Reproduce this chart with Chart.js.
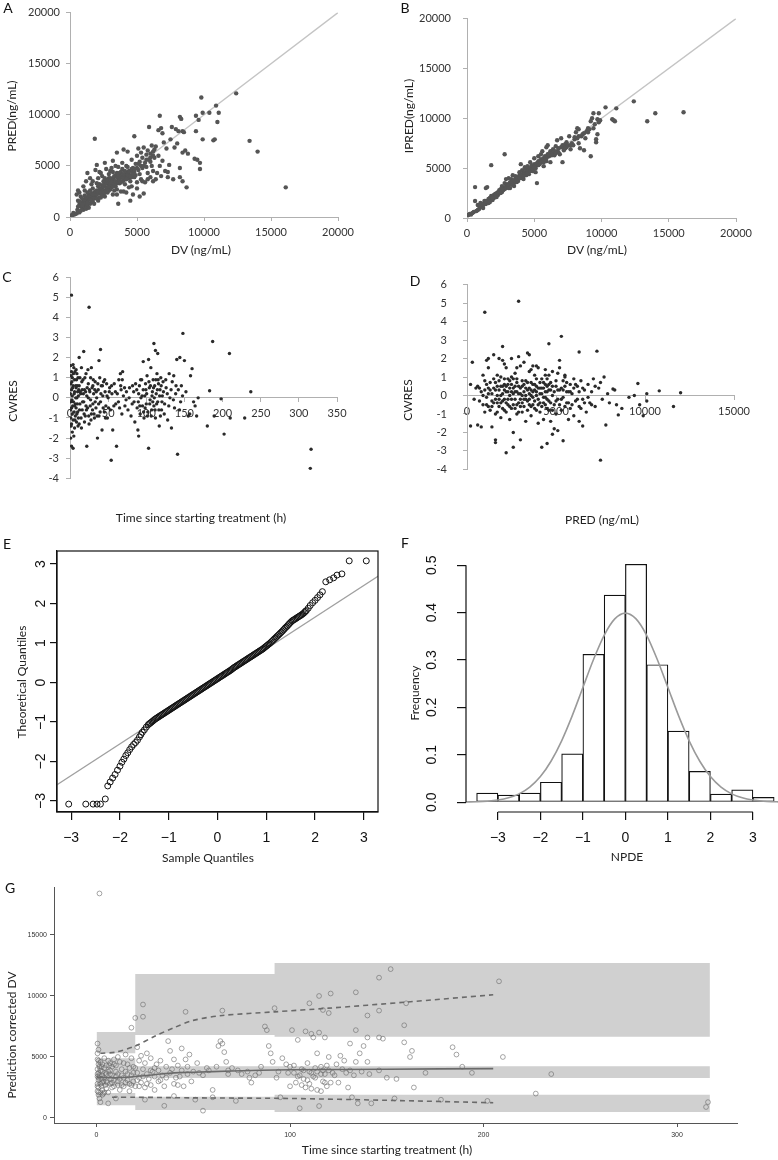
<!DOCTYPE html>
<html>
<head>
<meta charset="utf-8">
<script src="https://cdn.jsdelivr.net/npm/chart.js@4.4.0/dist/chart.umd.min.js"></script>
<style>
body{margin:0;background:#fff;width:778px;height:1160px;position:relative;overflow:hidden;font-family:Lato,sans-serif}
.box{position:absolute}
.lbl{position:absolute;font-size:14px;color:#111;line-height:1;transform:translate(-50%,-50%)}
.t{position:absolute;font-size:12px;color:#222;white-space:nowrap;line-height:1;transform:translate(-50%,-50%)}
.t.rot{transform:translate(-50%,-50%) rotate(-90deg)}
</style>
</head>
<body>
<div class="box" style="left:0;top:0;width:389px;height:262px"><canvas id="cA"></canvas></div>
<div class="box" style="left:389px;top:0;width:389px;height:262px"><canvas id="cB"></canvas></div>
<div class="box" style="left:0;top:262px;width:389px;height:230px"><canvas id="cC"></canvas></div>
<div class="box" style="left:389px;top:262px;width:389px;height:230px"><canvas id="cD"></canvas></div>
<div class="box" style="left:0;top:530px;width:389px;height:340px"><canvas id="cE"></canvas></div>
<div class="box" style="left:389px;top:530px;width:389px;height:340px"><canvas id="cF"></canvas></div>
<div class="box" style="left:0;top:870px;width:778px;height:290px"><canvas id="cG"></canvas></div>

<div class="lbl" style="left:8px;top:8px">A</div>
<div class="lbl" style="left:405px;top:8px">B</div>
<div class="lbl" style="left:7px;top:277px">C</div>
<div class="lbl" style="left:415px;top:281px">D</div>
<div class="lbl" style="left:7px;top:544px">E</div>
<div class="lbl" style="left:405px;top:543px">F</div>
<div class="lbl" style="left:10px;top:888px">G</div>

<div class="t rot" style="left:12px;top:116px">PRED(ng/mL)</div>
<div class="t" style="left:201px;top:250px">DV (ng/mL)</div>
<div class="t rot" style="left:409px;top:116px">IPRED(ng/mL)</div>
<div class="t" style="left:597px;top:250px">DV (ng/mL)</div>
<div class="t rot" style="left:13px;top:401px">CWRES</div>
<div class="t" style="left:201px;top:518px">Time since starting treatment (h)</div>
<div class="t rot" style="left:408px;top:400px">CWRES</div>
<div class="t" style="left:602px;top:520px">PRED (ng/mL)</div>
<div class="t rot" style="left:22px;top:682px">Theoretical Quantiles</div>
<div class="t" style="left:208px;top:858px">Sample Quantiles</div>
<div class="t rot" style="left:415px;top:693px">Frequency</div>
<div class="t" style="left:627px;top:857px">NPDE</div>
<div class="t rot" style="left:12px;top:1035px">Prediction corrected DV</div>
<div class="t" style="left:387px;top:1150px">Time since starting treatment (h)</div>

<script>
// ---- data ----
// A: observed DV vs population prediction
const ptsA = [[100,150],[200,200],[300,250],[400,300],[250,400],[500,350],[600,500],[700,450],[550,700],[800,600],[900,900],[1000,700],[1100,1000],[1200,800],[700,1200],[900,1400],[600,1600],[500,2200],[700,2400],[600,2600],[800,2000],[1000,1600],[1100,1300],[1200,1500],[1300,1100],[1400,1700],[1300,4300],[1500,2600],[1000,3000],[1200,3500],[1400,2200],[1500,1300],[1600,1900],[1700,1500],[1850,7650],[1800,2400],[1900,2000],[1700,2800],[1600,3200],[1900,4600],[2000,5100],[2100,1600],[2100,3000],[2200,2300],[2300,1900],[2200,2700],[2400,2500],[2500,3500],[2400,4000],[2600,2000],[2600,5300],[2700,2900],[2800,3300],[2800,2400],[2900,3800],[3000,2700],[3000,4500],[3100,3100],[3200,2200],[3200,5500],[3300,3500],[3400,3000],[3400,4100],[3500,6300],[3500,2700],[3600,3800],[3600,1300],[3700,4300],[3700,3300],[3800,2500],[3800,3900],[3900,4700],[3900,5300],[4000,3600],[4000,6600],[4100,3200],[4100,4000],[4200,2400],[4200,5000],[4300,3800],[4300,6400],[4400,4200],[4400,2900],[4500,1600],[4500,3500],[4600,4500],[4600,5600],[4700,2200],[4700,4800],[4800,7900],[4800,3900],[4900,5200],[4900,4100],[5000,6000],[5000,2800],[5100,4600],[5100,6700],[5200,2000],[5200,5400],[5300,3700],[5300,6300],[5400,4800],[5500,2300],[5500,6800],[5600,5300],[5600,3400],[5700,6100],[5800,4300],[5800,6500],[5900,8800],[5900,5600],[6000,6200],[6000,3900],[6100,5000],[6100,7000],[6200,6400],[6200,4500],[6300,5800],[6400,6900],[6400,3700],[6500,4300],[6600,8500],[6600,6000],[6700,9900],[6700,5000],[6800,8700],[6800,4000],[6900,8200],[6900,5500],[7000,7300],[7100,4500],[7200,6700],[7300,3900],[7300,4400],[7400,5100],[7500,7600],[7600,8800],[7700,3700],[7800,6800],[7900,8600],[8000,7200],[8100,8400],[8200,9800],[8200,4800],[8200,3900],[8300,9600],[8400,8400],[8400,6300],[8400,3500],[8500,8300],[8600,6500],[8700,2900],[8800,6200],[9300,5700],[9400,9900],[9400,8400],[9500,5600],[9600,9500],[9700,5300],[9700,4700],[9800,11700],[9900,10200],[9900,7600],[10400,10200],[10700,7500],[10800,7600],[10900,10900],[11000,9300],[11100,10200],[12400,12100],[13400,7450],[14000,6400],[16100,2900],[1300,1800],[1500,2000],[1700,1900],[1800,1300],[2000,2200],[2300,2800],[2500,2200],[2700,3600],[2900,2600],[3100,3700],[3300,2600],[3500,3300],[3700,3800],[3900,3500],[2000,3300],[2400,3100],[1100,2100],[900,1800],[1200,1200],[1400,900],[1600,2300],[2900,4200],[3200,4400],[3800,4400],[4200,4300],[4400,3800],[4600,3900],[4800,4400],[5200,4200],[5400,5800],[5700,4900],[6000,5400],[6300,6600],[4300,4900],[3600,4900],[3100,2900],[2200,4400],[2600,3800],[800,1100],[1000,1300],[1100,1700],[1200,1900],[1300,1400],[1400,2000],[1500,1700],[1600,1600],[1700,2200],[1800,1800],[1900,2500],[2000,1800],[2000,2600],[2100,2400],[2200,1900],[2200,3200],[2300,2400],[2400,2100],[2400,2800],[2500,2600],[2500,3000],[2600,2400],[2600,3200],[2700,2600],[2700,3300],[2800,2800],[2800,3600],[2900,3000],[2900,3400],[3000,3200],[3000,3800],[3100,3400],[3200,3000],[3200,3800],[3300,3200],[3300,4000],[3400,3500],[3500,3900],[3500,4300],[3600,3500],[3600,4200],[3700,3600],[3800,4000],[3800,3400],[3900,4000],[4000,4200],[4000,3800],[4100,4500],[4200,3700],[4300,4100],[4400,4500],[4500,4000],[4600,4700],[4700,4200],[4800,4700],[5000,4800],[5100,5200],[5300,5000],[5500,5000],[5700,5600],[6000,5800],[6200,6000],[1500,3800],[1700,3500],[2100,3800],[2300,4300],[2700,4700],[3100,4800],[3400,5000],[600,1000],[900,1200],[1300,2400],[1100,2600],[700,1500],[3500,2200],[4000,2500],[4600,3000],[5000,3400],[5400,3500],[5800,3700],[6200,3500]];
// B: observed DV vs individual prediction
const ptsB = [[100,300],[200,400],[300,350],[400,500],[500,600],[600,3100],[600,1700],[700,700],[800,800],[800,1300],[900,900],[1000,1100],[1000,1500],[1100,1200],[1200,1000],[1200,1300],[1300,1500],[1300,1700],[1400,3000],[1400,1400],[1500,3100],[1500,1600],[1600,1500],[1600,1900],[1700,2000],[1700,1800],[1800,5300],[1800,2200],[1900,2100],[1900,1800],[2000,2300],[2000,2000],[2100,2200],[2200,2500],[2200,2100],[2300,2600],[2300,2300],[2400,2800],[2400,2500],[2500,2700],[2500,2900],[2600,2600],[2600,3200],[2700,3000],[2800,6400],[2800,3500],[2800,2900],[2900,3900],[2900,3200],[3000,3100],[3000,3400],[3100,3300],[3100,4000],[3200,3600],[3200,3000],[3300,3400],[3300,3900],[3400,3700],[3400,4300],[3500,3500],[3500,3200],[3600,3900],[3600,4200],[3700,3600],[3700,4000],[3800,4100],[3800,3700],[3900,4300],[3900,4600],[4000,4000],[4000,5400],[4100,4200],[4100,4800],[4200,4500],[4200,3900],[4300,4600],[4300,5100],[4400,4300],[4400,4900],[4500,4700],[4500,5200],[4600,4900],[4600,4400],[4700,5000],[4700,5600],[4800,4800],[4800,5300],[4900,5100],[4900,4700],[5000,5400],[5000,6000],[5100,5200],[5100,4600],[5200,5500],[5200,3500],[5300,5700],[5300,6200],[5400,5400],[5500,5900],[5500,6400],[5600,5600],[5600,6700],[5700,6000],[5700,5200],[5800,6200],[5900,7100],[5900,5700],[6000,6400],[6000,7300],[6100,6200],[6200,6700],[6200,5600],[6300,6500],[6400,6900],[6500,6300],[6600,7200],[6700,6700],[6700,7800],[6800,7000],[6900,6400],[7000,8000],[7100,7300],[7100,5600],[7200,6800],[7300,7400],[7400,7100],[7500,7300],[7600,8200],[7700,6900],[7800,7500],[7900,7300],[8000,7900],[8100,8600],[8200,9000],[8300,8900],[8300,7500],[8400,7000],[8500,8200],[8600,8400],[8700,6800],[8800,8000],[8900,8700],[9000,9000],[9100,8900],[9200,6200],[9200,9700],[9300,10000],[9400,10500],[9500,9400],[9600,7600],[9600,7900],[9700,8400],[9700,9900],[9800,10500],[9800,9600],[9900,9800],[10300,11100],[10800,9900],[10900,9800],[11000,9700],[11100,11000],[12400,11700],[13400,9700],[14000,10500],[16100,10600],[1100,1400],[1400,1700],[1700,1600],[1900,2000],[2100,2400],[2300,2500],[2500,2500],[2700,2800],[2900,3000],[3100,3000],[3300,3600],[3500,3800],[3700,3800],[3900,4000],[4100,4400],[4300,4400],[4500,4500],[4700,4700],[4900,4900],[5100,5000],[5300,5300],[5500,5600],[5700,5600],[5900,6000],[6100,6400],[6300,6300],[6500,6700],[6800,6600],[7000,7100],[7200,7000],[7400,7600],[7700,7300],[8000,8100],[8300,8200],[8700,8500],[9000,8600],[9400,9000],[2600,2900],[3400,3300],[4200,4200],[5000,5100],[5800,5900],[6600,6500],[7300,7000],[8200,8000]];
// C: time vs CWRES
const ptsC = [[2,5.1],[25,4.5],[148,3.2],[187,2.8],[209,2.2],[237,0.3],[316,-2.55],[315,-3.5],[54,-3.1],[103,-2.5],[141,-2.8],[202,-1.8],[180,-1.4],[229,-1.0],[210,-1.0],[189,-0.9],[198,-0.05],[183,0.35],[168,0.0],[158,1.1],[160,1.45],[144,2.0],[140,1.9],[150,1.85],[110,2.7],[112,2.35],[115,2.2],[96,1.8],[103,1.9],[40,2.4],[38,1.85],[18,2.3],[12,2.0],[4,1.65],[1,1.6],[2,1.3],[3,1.0],[1,0.7],[2,0.4],[3,0.1],[1,-0.2],[2,-0.5],[3,-0.8],[1,-1.0],[2,-1.3],[3,-1.7],[1,-2.0],[2,-2.4],[4,-2.5],[5,-1.9],[5,1.5],[6,0.9],[6,0.3],[7,-0.3],[7,-0.9],[8,0.5],[8,-0.5],[9,0.0],[9,1.2],[10,-0.7],[10,0.3],[11,-1.0],[12,0.6],[13,-0.3],[14,0.2],[15,1.5],[15,-1.5],[16,-0.6],[17,0.9],[18,-0.2],[19,0.4],[20,-0.9],[21,1.2],[22,-2.4],[22,0.1],[23,-0.5],[24,0.7],[25,-1.3],[26,0.3],[27,-0.1],[28,1.5],[28,-0.8],[29,0.5],[30,-0.3],[31,0.2],[32,-1.0],[33,0.8],[34,-0.5],[35,0.0],[36,-2.0],[37,0.4],[38,-0.9],[39,1.0],[40,-0.2],[41,0.6],[42,-1.6],[43,0.1],[44,0.8],[45,-0.7],[46,0.3],[47,-0.4],[48,0.7],[49,-1.0],[50,0.0],[52,0.5],[53,-0.6],[55,0.2],[56,-1.6],[58,0.7],[60,-0.3],[61,-2.4],[62,0.2],[64,0.9],[65,-0.5],[66,1.2],[67,0.4],[68,-0.8],[69,1.3],[70,0.1],[72,-0.4],[74,0.3],[76,-0.6],[78,0.5],[80,-0.9],[82,0.6],[84,-0.2],[85,-1.2],[86,0.7],[88,-0.5],[89,-1.6],[90,0.2],[90,-1.9],[91,0.6],[92,-0.8],[93,0.0],[94,0.9],[95,-0.4],[96,0.4],[97,-1.0],[98,0.1],[99,0.7],[100,-0.3],[101,1.1],[102,-0.7],[104,0.5],[105,-0.1],[106,1.5],[107,-0.6],[108,0.3],[109,0.9],[110,-0.4],[111,0.6],[112,-1.0],[113,0.2],[114,1.2],[115,-0.2],[116,0.7],[117,-1.4],[118,0.4],[119,1.0],[120,-0.6],[121,0.1],[122,0.8],[124,-0.3],[126,0.5],[128,-1.1],[130,1.2],[131,0.0],[133,-1.5],[134,0.8],[136,1.1],[137,-0.5],[139,0.6],[142,0.4],[145,-0.2],[146,0.6],[152,0.3],[155,-0.9],[157,-0.8],[162,-0.2],[164,-0.4],[166,-0.9],[4,0.6],[6,-0.4],[8,1.4],[11,0.1],[13,1.0],[16,0.4],[19,-1.2],[21,-0.4],[24,0.0],[27,1.0],[30,0.6],[33,-0.2],[4,-1.1],[6,-1.5],[9,-0.8],[12,-1.3],[0.5,0.2],[0.5,-0.6],[1.5,1.1],[1.5,-1.4],[2.5,0.8],[2.5,-0.1],[3.5,-0.4],[3.5,0.5],[4.5,-0.2],[4.5,1.2],[5.5,0.2],[5.5,-0.7],[6.5,1.3],[6.5,-1.1],[7.5,0.6],[7.5,0.0],[8.5,-1.2],[8.5,0.9],[9.5,-0.3],[9.5,0.6],[10.5,1.0],[10.5,-1.4],[11.5,0.4],[12.5,-0.6],[13.5,0.3],[14.5,-1.0],[15.5,0.8],[16.5,-0.2],[17.5,0.2],[18.5,-0.8],[19.5,1.0],[20.5,0.3],[21.5,-0.6],[22.5,0.5],[23.5,1.4],[24.5,-0.9],[25.5,0.4],[26.5,-0.4],[27.5,-1.1],[29.5,-0.6],[30.5,0.9],[31.5,-0.8],[32.5,0.4],[34.5,0.3],[35.5,-0.9],[36.5,0.7],[37.5,-0.3],[39.5,-0.7],[40.5,0.2],[42.5,0.6],[43.5,-0.5],[45.5,0.9],[46.5,-1.0],[48.5,0.1],[50.5,-0.5],[51.5,0.3],[54.5,0.6],[57.5,-0.4],[59.5,0.3],[63.5,-0.2],[66.5,0.6],[68.5,0.9],[71.5,0.5],[73.5,-0.1],[77.5,0.0],[81.5,-0.3],[83.5,0.3],[87.5,0.4],[89.5,-0.2],[91.5,-0.4],[92.5,0.9],[94.5,0.1],[96.5,-0.7],[98.5,-0.5],[99.5,0.4],[100.5,0.2],[101.5,-0.9],[103.5,0.8],[104.5,-0.3],[105.5,0.6],[106.5,-0.9],[107.5,0.1],[108.5,-0.2],[109.5,0.5],[110.5,0.0],[111.5,-0.6],[112.5,0.9],[113.5,-0.3],[114.5,0.4],[115.5,0.9],[116.5,-0.6],[117.5,0.1],[118.5,-0.9],[119.5,0.6],[120.5,-0.2],[122.5,0.3],[123.5,-0.8],[125.5,0.9],[127.5,0.2],[129.5,-0.4],[132.5,0.4],[135.5,-0.1],[138.5,0.2],[143.5,-0.6],[147.5,0.1]];
// D: PRED vs CWRES
const ptsD = [[1000,4.5],[2900,5.1],[5300,3.2],[4600,2.8],[7300,2.4],[6300,2.35],[2000,2.65],[7500,-3.5],[2200,-3.1],[4200,-2.8],[4500,-2.6],[2600,-2.8],[3000,-2.4],[1600,-2.4],[1600,-2.55],[5400,-2.45],[4800,-2.1],[4900,-1.8],[5100,-1.9],[7800,-1.6],[6500,-1.65],[6300,-1.4],[200,-1.65],[800,-1.7],[9600,0.65],[10800,0.25],[12000,0.15],[11600,-0.6],[10100,0.1],[10100,-0.3],[9900,-1.1],[9400,0.0],[8500,-1.05],[8200,0.35],[8300,0.3],[300,1.8],[1200,1.5],[900,1.1],[200,0.6],[600,0.5],[700,-0.3],[800,0.2],[900,-0.5],[1000,0.8],[1100,-0.1],[1200,0.4],[1300,-0.8],[1400,0.1],[1500,2.2],[1500,-0.4],[1600,0.7],[1600,-1.0],[1700,1.1],[1700,0.0],[1800,-0.6],[1800,2.0],[1900,0.5],[1900,-1.2],[2000,1.9],[2000,-0.3],[2100,0.9],[2100,-0.8],[2200,0.2],[2200,1.5],[2300,-0.5],[2300,0.6],[2400,-1.3],[2400,0.0],[2500,1.0],[2500,-0.7],[2600,0.4],[2600,-2.0],[2700,-0.2],[2700,1.2],[2800,0.7],[2800,-1.0],[2900,2.1],[2900,0.1],[3000,-0.6],[3000,1.6],[3100,0.5],[3100,-0.9],[3200,1.8],[3200,-0.2],[3300,0.8],[3300,-1.4],[3400,2.3],[3400,0.3],[3500,-0.5],[3500,1.3],[3600,0.0],[3600,-1.1],[3700,1.6],[3700,0.6],[3800,-0.3],[3800,1.1],[3900,-0.8],[3900,0.2],[4000,1.5],[4000,-1.5],[4100,0.4],[4100,-0.4],[4200,0.9],[4300,-0.1],[4300,-1.3],[4400,0.6],[4400,1.4],[4500,-0.7],[4500,0.2],[4600,1.1],[4600,-0.3],[4700,0.7],[4700,-1.4],[4800,0.0],[4800,1.3],[4900,-0.5],[5000,0.5],[5000,-1.0],[5100,1.2],[5100,-0.2],[5200,0.3],[5200,1.9],[5300,-0.8],[5400,0.8],[5400,-0.1],[5500,1.0],[5600,-0.4],[5600,0.2],[5700,-1.3],[5800,0.6],[5800,-0.7],[5900,0.1],[6000,0.9],[6000,-1.1],[6100,-0.3],[6200,0.5],[6300,-0.6],[6400,0.8],[6500,-0.2],[6600,0.3],[6700,-0.9],[6800,0.6],[6900,-0.4],[7000,0.2],[7100,0.9],[7200,-0.6],[7400,0.4],[7600,-0.2],[7700,1.0],[7900,0.1],[8000,-0.4],[8400,-0.5],[8700,-0.7],[9100,-0.1],[9700,-0.5],[1100,0.6],[1300,0.3],[1500,0.9],[1700,-0.4],[1900,0.0],[2100,0.3],[2300,-0.2],[2500,0.2],[2700,0.5],[2900,-0.4],[3100,0.0],[3300,0.4],[3500,0.1],[3700,-0.5],[3900,0.5],[4100,0.1],[4300,0.4],[1200,-0.6],[1400,-0.3],[1800,0.3],[2000,0.5],[2200,-0.9],[2400,0.8],[2600,-0.5],[2800,0.2],[3000,0.4],[3200,-0.6],[3400,-0.3],[3600,0.7],[3800,0.3],[4000,-0.2],[4200,-0.6],[4400,-0.1],[4600,0.3],[500,0.4],[400,-0.2],[600,-1.6],[1000,-0.9],[1400,-1.7],[1200,2.0],[1100,1.9],[2100,1.7],[2500,2.0],[3500,2.2],[2800,1.5],[3600,1.4],[3900,1.6],[4400,1.1],[5200,1.5],[5500,1.1],[4500,0.9],[700,0.4],[900,0.0],[1000,0.3],[1100,-0.5],[1200,0.1],[1300,0.7],[1400,-0.6],[1500,0.4],[1600,-0.2],[1600,0.3],[1700,0.5],[1700,-0.9],[1800,0.8],[1800,-0.2],[1900,-0.4],[1900,1.0],[2000,0.1],[2000,-0.7],[2100,-0.2],[2100,0.6],[2200,0.5],[2200,-0.4],[2300,0.9],[2300,0.2],[2400,-0.6],[2400,0.4],[2500,-0.2],[2500,0.6],[2600,0.1],[2600,0.9],[2700,-0.7],[2700,0.2],[2800,-0.5],[2800,0.9],[2900,0.5],[2900,-0.9],[3000,0.1],[3000,-0.2],[3100,0.8],[3100,-0.4],[3200,0.2],[3200,0.6],[3300,-0.2],[3300,0.0],[3400,0.7],[3400,-0.8],[3500,0.4],[3500,-0.2],[3600,0.3],[3600,-0.6],[3700,0.2],[3700,-0.1],[3800,0.6],[3800,-0.7],[3900,0.0],[3900,0.9],[4000,0.4],[4000,-0.5],[4100,0.7],[4100,-0.9],[4200,0.1],[4200,0.4],[4300,0.7],[4300,-0.4],[4400,0.2],[4400,-0.5],[4500,0.5],[4500,-0.2],[4600,0.6],[4600,-0.8],[4700,0.3],[4700,-0.4],[4800,0.5],[4800,-0.8],[4900,0.2],[5000,-0.3],[5000,0.8],[5100,0.3],[5200,-0.5],[5300,0.4],[5300,-0.2],[5400,0.3],[5500,-0.6],[5500,0.5],[5600,0.7],[5700,0.2],[5700,-0.4],[5800,0.2],[5900,-0.5],[6000,0.4],[6100,0.6],[6200,-0.2],[6300,0.2],[6400,-0.7],[6500,0.4],[6600,-0.4],[6800,-0.1],[7000,-0.5],[7200,0.5],[7500,0.7]];
// E: Q-Q points and reference line
const qqE = [[-3.05,-3.08],[-2.7,-3.08],[-2.55,-3.08],[-2.47,-3.08],[-2.4,-3.08],[-2.3,-2.95],[-2.25,-2.62],[-2.2,-2.52],[-2.15,-2.42],[-2.1,-2.33],[-2.05,-2.22],[-2.0,-2.12],[-1.96,-2.02],[-1.92,-1.94],[-1.88,-1.85],[-1.84,-1.78],[-1.8,-1.7],[-1.76,-1.63],[-1.72,-1.57],[-1.68,-1.52],[-1.64,-1.46],[-1.6,-1.38],[-1.57,-1.32],[-1.54,-1.26],[-1.5,-1.2],[-1.46,-1.13],[-1.42,-1.07],[-1.37,-1.02],[-1.32,-0.97],[-1.27,-0.92],[-1.22,-0.88],[-1.17,-0.84],[-1.12,-0.8],[-1.07,-0.76],[-1.02,-0.72],[-0.97,-0.68],[-0.92,-0.64],[-0.87,-0.6],[-0.82,-0.56],[-0.77,-0.52],[-0.72,-0.48],[-0.67,-0.44],[-0.62,-0.4],[-0.57,-0.36],[-0.52,-0.32],[-0.47,-0.28],[-0.42,-0.24],[-0.37,-0.2],[-0.32,-0.16],[-0.27,-0.12],[-0.22,-0.08],[-0.17,-0.04],[-0.12,0.0],[-0.07,0.04],[-0.02,0.08],[0.03,0.12],[0.08,0.16],[0.13,0.2],[0.18,0.24],[0.23,0.28],[0.28,0.32],[0.33,0.37],[0.38,0.41],[0.43,0.45],[0.48,0.49],[0.53,0.53],[0.58,0.57],[0.63,0.61],[0.68,0.65],[0.73,0.69],[0.78,0.73],[0.83,0.77],[0.88,0.81],[0.93,0.85],[0.98,0.9],[1.03,0.95],[1.08,1.0],[1.13,1.06],[1.18,1.12],[1.23,1.18],[1.28,1.24],[1.33,1.3],[1.38,1.37],[1.43,1.43],[1.48,1.5],[1.53,1.56],[1.58,1.6],[1.63,1.64],[1.68,1.68],[1.73,1.72],[1.78,1.77],[1.82,1.82],[1.86,1.88],[1.9,1.95],[1.95,2.02],[2.0,2.08],[2.05,2.15],[2.1,2.22],[2.15,2.3],[2.22,2.55],[2.3,2.6],[2.38,2.65],[2.45,2.72],[2.55,2.75],[2.7,3.08],[3.05,3.08],[-1.395,-1.045],[-1.345,-0.995],[-1.295,-0.945],[-1.245,-0.9],[-1.195,-0.86],[-1.145,-0.82],[-1.095,-0.78],[-1.045,-0.74],[-0.995,-0.7],[-0.945,-0.66],[-0.895,-0.62],[-0.845,-0.58],[-0.795,-0.54],[-0.745,-0.5],[-0.695,-0.46],[-0.645,-0.42],[-0.595,-0.38],[-0.545,-0.34],[-0.495,-0.3],[-0.445,-0.26],[-0.395,-0.22],[-0.345,-0.18],[-0.295,-0.14],[-0.245,-0.1],[-0.195,-0.06],[-0.145,-0.02],[-0.095,0.02],[-0.045,0.06],[0.005,0.1],[0.055,0.14],[0.105,0.18],[0.155,0.22],[0.205,0.26],[0.255,0.3],[0.305,0.345],[0.355,0.39],[0.405,0.43],[0.455,0.47],[0.505,0.51],[0.555,0.55],[0.605,0.59],[0.655,0.63],[0.705,0.67],[0.755,0.71],[0.805,0.75],[0.855,0.79],[0.905,0.83],[0.955,0.875],[1.005,0.925],[1.055,0.975],[1.105,1.03],[1.155,1.09],[1.205,1.15],[1.255,1.21],[1.305,1.27],[1.355,1.335],[1.405,1.4],[1.455,1.465],[1.505,1.53],[1.555,1.58],[1.605,1.62],[1.655,1.66],[1.705,1.7],[1.755,1.745],[1.8,1.8]];
const qqLine = [[-3.3,-2.6],[3.3,2.7]];
// F: NPDE histogram and normal density overlay
const histMid = [-3.25,-2.75,-2.25,-1.75,-1.25,-0.75,-0.25,0.25,0.75,1.25,1.75,2.25,2.75,3.25];
const histFreq = [0.019,0.015,0.019,0.042,0.102,0.312,0.437,0.502,0.29,0.15,0.065,0.017,0.026,0.01];
const normX = [-3.75,-3.5,-3.25,-3,-2.75,-2.5,-2.25,-2,-1.75,-1.5,-1.25,-1,-0.75,-0.5,-0.25,0,0.25,0.5,0.75,1,1.25,1.5,1.75,2,2.25,2.5,2.75,3,3.25,3.5,3.59];
const normY = [0.0004,0.0009,0.002,0.0044,0.0091,0.0175,0.0317,0.054,0.0863,0.1295,0.1826,0.242,0.3011,0.3521,0.3867,0.3989,0.3867,0.3521,0.3011,0.242,0.1826,0.1295,0.0863,0.054,0.0317,0.0175,0.0091,0.0044,0.002,0.0009,0.0006];
// G: pcVPC observations, prediction-interval bands and percentile lines
const ptsG = [[1.5,18400],[0.5,6100],[1,5600],[0.5,4800],[1,4400],[0.5,4000],[1,3700],[0.5,3400],[1,3100],[0.5,2800],[1,2500],[0.5,2200],[1,1900],[1.5,1600],[2,1300],[2,4600],[2.5,4200],[2,3900],[3,3500],[2.5,3200],[3,2900],[2.5,2600],[3,2300],[3.5,2000],[4,4900],[4,4100],[4.5,3700],[4,3300],[5,3000],[4.5,2700],[5,2400],[6,1200],[6,4700],[6.5,4300],[7,3900],[7,3600],[7.5,3200],[8,2900],[8,2500],[9,4800],[9,4400],[10,3800],[10,3400],[11,3000],[11,2700],[12,4600],[12,2300],[13,4000],[13,3500],[14,3300],[14,2600],[15,5200],[15,3800],[16,4400],[16,3100],[17,2800],[17,2200],[18,7400],[18,4900],[18,3500],[19,3000],[19,4200],[20,8200],[20,2600],[21,5800],[21,3700],[22,4700],[22,3300],[23,5100],[23,2900],[24,9300],[24,8300],[24,4000],[25,4500],[25,2500],[26,3600],[26,5300],[27,3200],[28,4900],[28,2700],[29,3800],[30,3400],[30,2300],[31,4400],[32,3000],[32,3900],[33,4700],[34,3500],[35,2600],[36,4200],[37,6300],[38,3700],[38,5500],[40,4800],[40,2800],[41,3300],[42,4300],[42,2700],[44,3900],[44,5700],[45,2600],[46,8700],[46,4800],[47,3600],[48,5200],[49,3000],[50,3800],[51,1500],[52,4500],[55,3500],[58,3900],[60,2300],[62,4200],[63,5900],[64,6300],[65,8800],[65,6100],[66,5400],[67,4600],[68,3600],[70,4100],[72,1400],[75,3600],[78,3800],[80,2900],[82,3500],[85,4200],[87,7500],[88,7200],[89,5900],[90,5300],[91,4600],[92,9000],[93,3300],[94,3800],[95,1700],[96,4900],[98,4400],[100,4200],[100,2600],[101,7200],[102,3700],[103,2900],[104,6400],[105,3500],[105,800],[106,4000],[107,3200],[108,7100],[108,2500],[109,4500],[110,9400],[110,3800],[111,6900],[111,2400],[112,3400],[112,6600],[113,4100],[114,2300],[114,5300],[115,10000],[115,7000],[115,980],[116,3600],[116,2200],[117,8850],[117,3900],[118,6600],[118,2900],[119,4300],[120,8600],[120,5000],[121,10200],[121,2900],[122,3700],[124,4400],[126,5100],[128,4700],[130,2500],[131,6100],[132,1700],[134,10300],[134,7200],[134,4600],[135,1200],[136,5300],[138,5900],[140,8400],[140,6600],[140,4600],[142,1200],[146,11500],[146,8800],[146,6600],[148,6500],[150,3300],[152,12200],[154,1600],[155,3200],[159,7600],[159,6200],[160,9400],[162,5000],[163,5500],[164,2500],[170,3700],[178,1500],[184,5800],[186,5200],[189,4200],[194,3700],[202,1400],[208,11200],[210,5000],[227,2000],[235,3600],[316,1300],[315,900],[25,1500],[40,1800],[60,1700],[10,1600],[35,1000],[55,600],[0.5,5300],[1,4700],[0.5,3600],[1,3300],[0.5,2600],[1,2100],[1.5,4200],[1.5,3500],[2,2800],[2,2100],[3,4400],[3,3800],[3,1900],[3.5,3000],[4,2100],[5,4300],[5,3600],[5.5,2900],[6,3800],[6,2100],[7,4500],[7,2800],[8,3500],[8,4200],[9,3100],[9,2600],[10,4300],[11,3600],[11,5000],[12,3200],[13,2700],[14,4500],[15,2900],[16,3600],[17,4100],[18,2700],[19,3700],[20,4100],[21,3100],[22,2600],[24,3400],[26,2800],[28,3900],[30,4100],[33,3100],[36,3300],[39,4000],[43,3400],[47,4200],[53,3700],[57,4100],[68,3900],[73,3900],[79,3300],[84,3700],[99,3700],[102,4300],[104,3400],[106,2700],[107,3900],[109,3100],[110,2800],[111,3700],[113,3300],[114,3800],[116,4200],[117,3000],[118,3600],[119,2600],[120,3900],[123,3500],[125,2900],[127,4000],[129,3700],[131,3900],[133,3500],[137,3800],[141,3600],[146,3900]];
const gTicksY = [0, 5000, 10000, 15000];
const bandX = [0, 20, 92, 317];
const upHi = [7050, 11800, 12700, 12700];
const upLo = [5300, 6800, 6650, 6650];
const midHi = [4900, 4250, 4250, 4250];
const midLo = [2600, 3280, 3280, 3280];
const lowHi = [2050, 1750, 1900, 1900];
const lowLo = [1050, 650, 500, 500];
const medX = [0, 10, 20, 30, 40, 50, 70, 100, 150, 205];
const medY = [3350, 3300, 3400, 3550, 3700, 3750, 3850, 3950, 4000, 4050];
const upX = [2, 10, 20, 30, 40, 50, 65, 92, 120, 160, 205];
const upY = [5300, 5400, 5900, 6700, 7400, 8000, 8400, 8700, 9000, 9500, 10100];
const lowX = [8, 20, 50, 100, 150, 205];
const lowY = [1700, 1700, 1650, 1600, 1450, 1250];

// ---- helpers ----
Chart.defaults.font.family = 'Lato, sans-serif';
Chart.defaults.color = '#222';
Chart.defaults.animation = false;
Chart.defaults.plugins.legend.display = false;
Chart.defaults.plugins.tooltip.enabled = false;
Chart.defaults.responsive = true;
Chart.defaults.maintainAspectRatio = false;

const xy = (xs, ys) => xs.map((x, i) => ({x: x, y: ys[i]}));
const minus = v => (v < 0 ? '\u2212' + Math.abs(v) : String(v));

// excel-ish axis
function xlScale(min, max, step, pad, fit, isX, extra) {
  const s = {
    type: 'linear', min: min, max: max,
    ticks: {stepSize: step, padding: pad, font: {size: 11}, color: '#333', callback: v => String(v)},
    grid: {drawOnChartArea: false, drawTicks: true, tickLength: 4, color: '#b0b0b0'},
    border: {color: '#b0b0b0', width: 1},
    afterFit: isX ? (sc => { sc.height = fit; }) : (sc => { sc.width = fit; })
  };
  return Object.assign(s, extra || {});
}

// R-ish axis
function rScale(min, max, step, pad, fit, isX, tickLen, fmt, showBorder) {
  const s = {
    type: 'linear', min: min, max: max, offset: false,
    ticks: {stepSize: step, padding: pad, includeBounds: false, font: {family: 'Liberation Sans', size: 14}, color: '#111', callback: fmt},
    grid: {offset: false, drawOnChartArea: false, drawTicks: true, tickLength: tickLen, color: '#111', lineWidth: 1.2},
    border: {display: showBorder, color: '#111', width: 1.2},
    afterFit: isX ? (sc => { sc.height = fit; }) : (sc => { sc.width = fit; })
  };
  if (!isX) { s.ticks.minRotation = 90; s.ticks.maxRotation = 90; s.ticks.crossAlign = 'center'; }
  return s;
}

// box around plot (E) or R axis segments from first to last tick (F)
const rFrame = {
  id: 'rFrame',
  afterDraw(chart, args, opts) {
    if (!opts || !opts.mode) return;
    const ctx = chart.ctx, a = chart.chartArea;
    ctx.save();
    ctx.strokeStyle = '#111';
    ctx.lineWidth = 1.2;
    if (opts.mode === 'box') {
      ctx.strokeRect(a.left, a.top, a.right - a.left, a.bottom - a.top);
    } else {
      const sx = chart.scales.x, sy = chart.scales.y;
      const xt = sx.ticks, yt = sy.ticks;
      ctx.beginPath();
      ctx.moveTo(sx.getPixelForValue(xt[0].value), a.bottom);
      ctx.lineTo(sx.getPixelForValue(xt[xt.length - 1].value), a.bottom);
      ctx.moveTo(a.left, sy.getPixelForValue(yt[0].value));
      ctx.lineTo(a.left, sy.getPixelForValue(yt[yt.length - 1].value));
      ctx.stroke();
    }
    ctx.restore();
  }
};

// ---- A ----
new Chart(document.getElementById('cA'), {
  type: 'scatter',
  data: {datasets: [
    {data: ptsA, pointRadius: 2.2, backgroundColor: '#555', borderWidth: 0},
    {type: 'line', data: [[0, 0], [20000, 20000]], borderColor: '#c4c4c4', borderWidth: 1.3, pointRadius: 0}
  ]},
  options: {
    layout: {padding: {top: 9, right: 51, left: 0, bottom: 0}},
    scales: {x: xlScale(0, 20000, 5000, 5, 45, true), y: xlScale(0, 20000, 5000, 6, 70, false)}
  }
});

// ---- B ----
new Chart(document.getElementById('cB'), {
  type: 'scatter',
  data: {datasets: [
    {data: ptsB, pointRadius: 2.2, backgroundColor: '#555', borderWidth: 0},
    {type: 'line', data: [[0, 0], [20000, 20000]], borderColor: '#c4c4c4', borderWidth: 1.3, pointRadius: 0}
  ]},
  options: {
    layout: {padding: {top: 9, right: 42, left: 0, bottom: 0}},
    scales: {x: xlScale(0, 20000, 5000, 5, 44, true), y: xlScale(0, 20000, 5000, 12, 78, false)}
  }
});

// ---- C ----
new Chart(document.getElementById('cC'), {
  type: 'scatter',
  data: {datasets: [{data: ptsC, pointRadius: 1.7, backgroundColor: '#2a2a2a', borderWidth: 0}]},
  options: {
    layout: {padding: {top: 15, right: 52, left: 0, bottom: 7}},
    scales: {
      x: xlScale(0, 350, 50, 5, 20, true, {position: {y: 0}}),
      y: xlScale(-4, 6, 1, 7, 70, false)
    }
  }
});

// ---- D ----
new Chart(document.getElementById('cD'), {
  type: 'scatter',
  data: {datasets: [{data: ptsD, pointRadius: 1.7, backgroundColor: '#2a2a2a', borderWidth: 0}]},
  options: {
    layout: {padding: {top: 16, right: 44, left: 0, bottom: 7}},
    scales: {
      x: xlScale(0, 15000, 5000, 5, 20, true, {position: {y: 0}}),
      y: xlScale(-4, 6, 1, 16, 78, false)
    }
  }
});

// ---- E ----
new Chart(document.getElementById('cE'), {
  type: 'scatter',
  plugins: [rFrame],
  data: {datasets: [
    {data: qqE, pointRadius: 3, pointStyle: 'circle', backgroundColor: 'rgba(0,0,0,0)', borderColor: '#111', borderWidth: 1},
    {type: 'line', data: qqLine, borderColor: '#a0a0a0', borderWidth: 1.3, pointRadius: 0}
  ]},
  options: {
    layout: {padding: {top: 21, right: 11, left: 0, bottom: 0}},
    plugins: {rFrame: {mode: 'box'}},
    scales: {
      x: rScale(-3.29, 3.29, 1, 10, 58, true, 8, minus, true),
      y: rScale(-3.28, 3.33, 1, 1, 57, false, 7, minus, true)
    }
  }
});

// ---- F ----
new Chart(document.getElementById('cF'), {
  type: 'bar',
  plugins: [rFrame],
  data: {datasets: [
    {type: 'line', data: xy(normX, normY), borderColor: '#9a9a9a', borderWidth: 1.6, pointRadius: 0, cubicInterpolationMode: 'monotone'},
    {type: 'bar', data: xy(histMid, histFreq), backgroundColor: '#fff', borderColor: '#111', borderWidth: 1.2, borderSkipped: false, barPercentage: 1, categoryPercentage: 1}
  ]},
  options: {
    layout: {padding: {top: 20, right: 0, left: 0, bottom: 0}},
    plugins: {rFrame: {mode: 'axes'}},
    scales: {
      x: rScale(-3.75, 3.59, 1, 10, 58, true, 8, minus, false),
      y: rScale(-0.0208, 0.525, 0.1, 15, 77, false, 9, v => v.toFixed(1), false)
    }
  }
});

// ---- G ----
// 'before' = hold each value until the next break point
const bandStyle = {borderWidth: 0, pointRadius: 0, stepped: 'before', backgroundColor: 'rgb(208,208,208)'};
new Chart(document.getElementById('cG'), {
  type: 'scatter',
  data: {datasets: [
    {data: ptsG, pointRadius: 2.4, pointStyle: 'circle', backgroundColor: 'rgba(0,0,0,0)', borderColor: 'rgba(105,105,105,0.75)', borderWidth: 0.8},
    {type: 'line', data: xy(medX, medY), borderColor: '#6a6a6a', borderWidth: 1.6, pointRadius: 0, tension: 0.3},
    {type: 'line', data: xy(upX, upY), borderColor: '#6a6a6a', borderWidth: 1.6, borderDash: [5, 4], pointRadius: 0, tension: 0.3},
    {type: 'line', data: xy(lowX, lowY), borderColor: '#6a6a6a', borderWidth: 1.6, borderDash: [5, 4], pointRadius: 0, tension: 0.3},
    Object.assign({type: 'line', data: xy(bandX, upHi), fill: '+1'}, bandStyle),
    Object.assign({type: 'line', data: xy(bandX, upLo), fill: false}, bandStyle),
    Object.assign({type: 'line', data: xy(bandX, midHi), fill: '+1'}, bandStyle),
    Object.assign({type: 'line', data: xy(bandX, midLo), fill: false}, bandStyle),
    Object.assign({type: 'line', data: xy(bandX, lowHi), fill: '+1'}, bandStyle),
    Object.assign({type: 'line', data: xy(bandX, lowLo), fill: false}, bandStyle)
  ]},
  options: {
    layout: {padding: {top: 17, right: 41, left: 0, bottom: 0}},
    scales: {
      x: {type: 'linear', min: -22, max: 331,
        ticks: {stepSize: 100, includeBounds: false, padding: 4, font: {family: 'Liberation Sans', size: 7}, color: '#333'},
        grid: {drawOnChartArea: false, tickLength: 4, color: '#555'},
        border: {color: '#555', width: 1},
        afterFit: sc => { sc.height = 37; }},
      y: {type: 'linear', min: -410, max: 18930,
        afterBuildTicks: sc => { sc.ticks = gTicksY.map(v => ({value: v})); },
        ticks: {padding: 3, font: {family: 'Liberation Sans', size: 7}, color: '#333', callback: v => String(v)},
        grid: {drawOnChartArea: false, tickLength: 4, color: '#555'},
        border: {color: '#555', width: 1},
        afterFit: sc => { sc.width = 54; }}
    }
  }
});
</script>
</body>
</html>
